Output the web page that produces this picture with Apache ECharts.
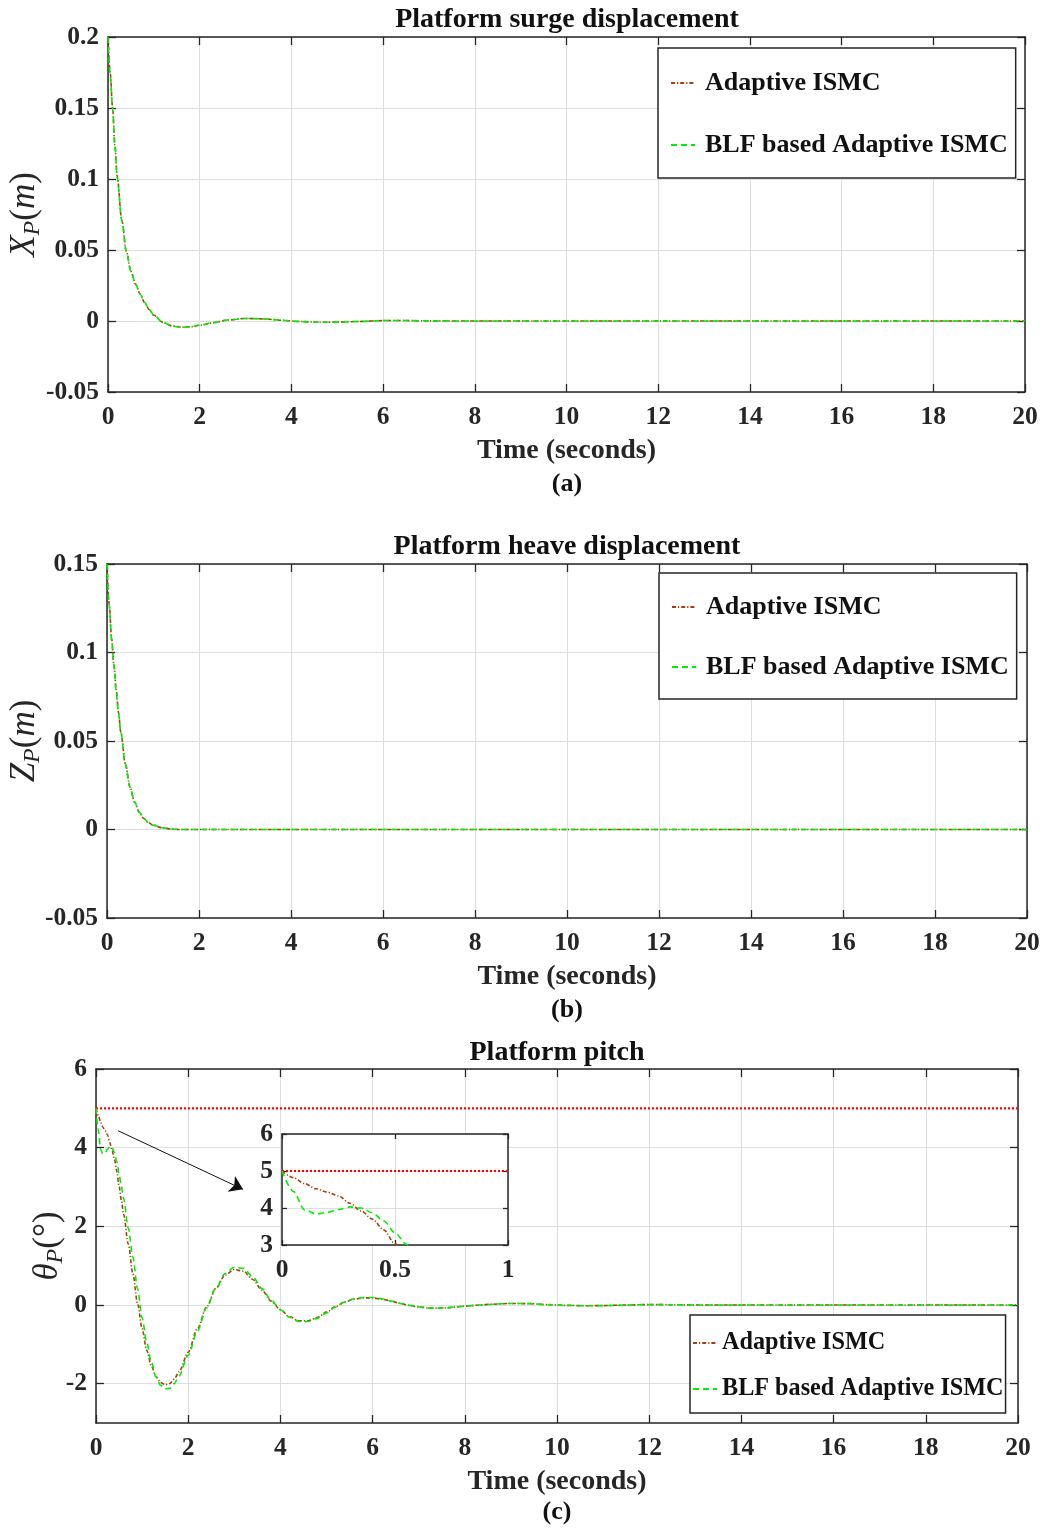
<!DOCTYPE html>
<html><head><meta charset="utf-8">
<script src="https://cdn.jsdelivr.net/npm/echarts@6/dist/echarts.min.js"></script>
<style>html,body{margin:0;padding:0;background:#fff}#c{width:1041px;height:1528px}</style>
</head><body><div id="c"></div><script>
// ---------------- data ----------------
const seriesNames = ['Adaptive ISMC', 'BLF based Adaptive ISMC'];

const surgeT = [0,0.05,0.1,0.15,0.2,0.3,0.4,0.5,0.6,0.7,0.8,0.9,1.0,1.2,1.4,1.6,1.8,2.0,2.3,2.6,3.0,3.4,3.8,4.2,4.6,5.0,5.5,6.0,6.5,7,8,9,10,12,14,16,18,20];
const surgeAdaptive = [0.2,0.174,0.15,0.124,0.102,0.071,0.049,0.035,0.026,0.019,0.013,0.008,0.004,-0.001,-0.0035,-0.0043,-0.004,-0.003,-0.0012,0.0006,0.0018,0.0015,0.0005,-0.0004,-0.0009,-0.0008,-0.0003,0.0003,0.0003,0.0001,0,0,0,0,0,0,0,0];
const surgeBLF = [0.2,0.173,0.149,0.124,0.101,0.071,0.049,0.035,0.026,0.019,0.013,0.008,0.004,-0.001,-0.0036,-0.0044,-0.004,-0.003,-0.0011,0.0007,0.0018,0.0015,0.0005,-0.0004,-0.0009,-0.0008,-0.0003,0.0003,0.0003,0.0001,0,0,0,0,0,0,0,0];

const heaveT = [0,0.05,0.1,0.15,0.2,0.25,0.3,0.4,0.5,0.6,0.7,0.8,0.9,1.0,1.2,1.4,1.6,2,4,20];
const heaveAdaptive = [0.15,0.127,0.108,0.093,0.079,0.066,0.055,0.037,0.024,0.0155,0.0098,0.0062,0.0039,0.0025,0.001,0.0003,0,0,0,0];
const heaveBLF = [0.15,0.126,0.107,0.093,0.078,0.066,0.055,0.037,0.024,0.0155,0.0098,0.0062,0.0039,0.0025,0.001,0.0003,0,0,0,0];

const pitchT = [0,0.05,0.1,0.15,0.2,0.25,0.3,0.35,0.4,0.45,0.5,0.55,
  0.6,0.7,0.8,0.9,1.0,
  1.1,1.2,1.3,1.4,1.5,1.6,1.7,1.8,
  2.0,2.2,2.4,2.6,2.8,3.0,3.2,3.4,3.6,3.8,4.0,4.2,4.4,4.6,4.8,5.0,5.2,5.4,5.6,5.8,6.0,6.2,6.4,6.6,6.8,7.0,7.2,7.4,7.6,7.8,8.0,
  8.3,8.6,9.0,9.4,9.8,
  10.2,10.6,11.0,11.5,12,
  12.5,13,14,16,18,20];
const pitchAdaptive = [5.0,4.82,4.66,4.52,4.43,4.33,4.13,3.92,3.70,3.41,3.03,2.66,
  2.3,1.55,0.8,0.05,-0.6,
  -1.15,-1.55,-1.82,-1.97,-2.03,-2.0,-1.88,-1.7,
  -1.2,-0.6,-0.05,0.42,0.76,0.9,0.86,0.65,0.38,0.1,-0.12,-0.3,-0.4,-0.4,-0.32,-0.18,-0.04,0.08,0.15,0.18,0.18,0.15,0.1,0.04,-0.01,-0.05,-0.07,-0.08,-0.07,-0.05,-0.03,
  0.0,0.02,0.04,0.035,0.01,
  -0.01,-0.02,-0.015,0.0,0.01,
  0.008,0,0,0,0,0];
const pitchBLF = [5.0,4.45,3.95,3.84,3.88,3.96,4.03,4.0,3.87,3.65,3.33,3.02,
  2.7,1.95,1.22,0.42,-0.32,
  -0.95,-1.45,-1.82,-2.04,-2.13,-2.12,-2.0,-1.8,
  -1.28,-0.66,-0.07,0.43,0.8,0.96,0.93,0.72,0.42,0.12,-0.12,-0.31,-0.42,-0.42,-0.34,-0.2,-0.05,0.08,0.16,0.19,0.19,0.16,0.1,0.04,-0.01,-0.05,-0.08,-0.08,-0.07,-0.05,-0.03,
  0.0,0.02,0.04,0.035,0.01,
  -0.01,-0.02,-0.015,0.0,0.01,
  0.008,0,0,0,0,0];
const pitchBound = 5;
const pitchYTicks = [-2, 0, 2, 4, 6];
const arrowFrom = [0.48, 4.43];
const arrowTo = [3.19, 2.94];

// ---------------- style ----------------
const FONT = 'Liberation Serif';
const TXT = '#262626';
const BROWN = '#A8400E';
const GREEN = '#00EE00';
const GRID = '#dedede';
const TICKFS = 25.5;

function zip(t, v) { return t.map((x, i) => [x, v[i]]); }

const gridBase = {containLabel:false, outerBoundsMode:'none'};
const grids = [
  Object.assign({left:108, top:37, width:917, height:355}, gridBase),
  Object.assign({left:107, top:564, width:920, height:354}, gridBase),
  Object.assign({left:96, top:1069, width:922, height:354}, gridBase),
  Object.assign({left:282, top:1134, width:226, height:111, z:5, show:true, backgroundColor:'#fff', borderWidth:0}, gridBase)
];

function xAxisPair(gi, min, max, interval, name, fs, z) {
  const base = {type:'value', gridIndex:gi, min, max, interval, z: z || 0,
    axisLine:{show:true, onZero:false, lineStyle:{color:TXT, width:1.5}},
    axisTick:{show:true, inside:true, length:gi===3?5:8, lineStyle:{color:TXT, width:1.3}}};
  const bottom = Object.assign({}, base, {position:'bottom',
    axisLabel:{show:true, color:TXT, fontFamily:FONT, fontWeight:'bold', fontSize:fs, margin:12},
    splitLine:{show:true, lineStyle:{color:GRID, width:1}}});
  if (name) {
    bottom.name = name; bottom.nameLocation = 'middle'; bottom.nameGap = 45; bottom.nameMoveOverlap = false;
    bottom.nameTextStyle = {color:TXT, fontFamily:FONT, fontWeight:'bold', fontSize:28};
  }
  const top = Object.assign({}, base, {position:'top', axisLabel:{show:false}, splitLine:{show:false}});
  return [bottom, top];
}
function yAxisPair(gi, min, max, interval, name, nameGap, fs, custom, z) {
  const base = {type:'value', gridIndex:gi, min, max, z: z || 0,
    axisLine:{show:true, onZero:false, lineStyle:{color:TXT, width:1.5}},
    axisTick:{show:true, inside:true, length:gi===3?5:8, lineStyle:{color:TXT, width:1.3}}};
  if (interval) base.interval = interval;
  if (custom) base.axisTick.customValues = custom;
  const left = Object.assign({}, base, {position:'left',
    axisLabel:{show:true, color:TXT, fontFamily:FONT, fontWeight:'bold', fontSize:fs, margin:9},
    splitLine:{show:true, lineStyle:{color:GRID, width:1}}});
  if (custom) left.axisLabel.customValues = custom;
  if (name) {
    left.name = name; left.nameLocation = 'middle'; left.nameGap = nameGap; left.nameRotate = 90;
    left.nameMoveOverlap = false;
    left.nameTextStyle = {rich:{
      i:{fontFamily:FONT, fontStyle:'italic', fontSize:35, color:TXT, lineHeight:40},
      r:{fontFamily:FONT, fontSize:35, color:TXT, lineHeight:40},
      s:{fontFamily:FONT, fontStyle:'italic', fontSize:24, color:TXT, lineHeight:24, verticalAlign:'bottom'}
    }};
  }
  const right = Object.assign({}, base, {position:'right', axisLabel:{show:false}, splitLine:{show:false}});
  return [left, right];
}

const xAxes = [].concat(
  xAxisPair(0, 0, 20, 2, 'Time (seconds)', TICKFS),
  xAxisPair(1, 0, 20, 2, 'Time (seconds)', TICKFS),
  xAxisPair(2, 0, 20, 2, 'Time (seconds)', TICKFS),
  xAxisPair(3, 0, 1, 0.5, null, TICKFS, 5)
);
const yAxes = [].concat(
  yAxisPair(0, -0.05, 0.2, 0.05, '{i|X}{s|P}{r|(}{i|m}{r|)}', 63, TICKFS),
  yAxisPair(1, -0.05, 0.15, 0.05, '{i|Z}{s|P}{r|(}{i|m}{r|)}', 62, TICKFS),
  yAxisPair(2, -3, 6, null, '{i|θ}{s|P}{r|(°)}', 28, TICKFS, pitchYTicks),
  yAxisPair(3, 3, 6, 1, null, 0, TICKFS, null, 5)
);

function lineSeries(name, data, xi, yi, kind, extra) {
  const s = {type:'line', name, data, xAxisIndex:xi, yAxisIndex:yi, symbol:'none',
    smooth:0.3, smoothMonotone:'x', clip:true,
    lineStyle: kind === 'brown' ? {color:BROWN, width:1.6, type:[4,2,1.2,2]}
                                : {color:GREEN, width:1.6, type:[6,4]},
    itemStyle:{color: kind === 'brown' ? BROWN : GREEN}};
  return Object.assign(s, extra || {});
}
const boundStyle = {color:'#ff0000', width:2.2, type:[2,2]};

const series = [
  lineSeries(seriesNames[0], zip(surgeT, surgeAdaptive), 0, 0, 'brown'),
  lineSeries(seriesNames[1], zip(surgeT, surgeBLF), 0, 0, 'green'),
  lineSeries(seriesNames[0], zip(heaveT, heaveAdaptive), 2, 2, 'brown'),
  lineSeries(seriesNames[1], zip(heaveT, heaveBLF), 2, 2, 'green'),
  {type:'line', name:'bound', data:[[0, pitchBound],[20, pitchBound]], xAxisIndex:4, yAxisIndex:4, symbol:'none',
    lineStyle:boundStyle, itemStyle:{color:'#ff0000'}},
  lineSeries(seriesNames[0], zip(pitchT, pitchAdaptive), 4, 4, 'brown', {
    markLine:{silent:true, symbol:['none','arrow'], symbolSize:13, animation:false,
      label:{show:false}, lineStyle:{color:'#111', width:1, type:'solid'},
      data:[[{coord:arrowFrom}, {coord:arrowTo}]]}}),
  lineSeries(seriesNames[1], zip(pitchT, pitchBLF), 4, 4, 'green'),
  {type:'line', name:'bound', data:[[0, pitchBound],[1, pitchBound]], xAxisIndex:6, yAxisIndex:6, symbol:'none', z:6,
    lineStyle:boundStyle, itemStyle:{color:'#ff0000'}},
  lineSeries(seriesNames[0], zip(pitchT, pitchAdaptive), 6, 6, 'brown', {z:6}),
  lineSeries(seriesNames[1], zip(pitchT, pitchBLF), 6, 6, 'green', {z:6})
];

function legendBox(left, top, padding, itemGap, fs, textPad) {
  return {left, top, orient:'vertical', data:seriesNames, padding, itemGap,
    itemWidth:24, itemHeight:12, borderColor:TXT, borderWidth:1.5, backgroundColor:'#fff',
    selectedMode:false, z:8,
    itemStyle:{color:'transparent', borderColor:'transparent', borderWidth:0, opacity:0},
    textStyle:{fontFamily:FONT, fontWeight:'bold', fontSize:fs, color:'#111', padding:[0,0,0,textPad]}};
}

function txt(x, y, text, size) {
  return {type:'text', x, y, z:10, style:{text, fill:'#111', align:'center', verticalAlign:'middle',
    font:'bold ' + size + 'px "' + FONT + '"'}};
}

const option = {
  animation:false,
  backgroundColor:'#fff',
  grid:grids,
  xAxis:xAxes,
  yAxis:yAxes,
  legend:[
    legendBox(658, 48, [22,8,20,12], 36, 26, 5),
    legendBox(659, 573, [21,8,19,12], 34, 26, 5),
    legendBox(690, 1315, [16,2,12,2], 22, 24.2, 0)
  ],
  series,
  graphic:[
    txt(567, 20, 'Platform surge displacement', 28),
    txt(567, 484, '(a)', 26),
    txt(567, 547, 'Platform heave displacement', 28),
    txt(567, 1010, '(b)', 26),
    txt(557, 1053, 'Platform pitch', 28),
    txt(557, 1512, '(c)', 26)
  ]
};
const chart = echarts.init(document.getElementById('c'), null, {renderer:'canvas'});
chart.setOption(option);
</script></body></html>
